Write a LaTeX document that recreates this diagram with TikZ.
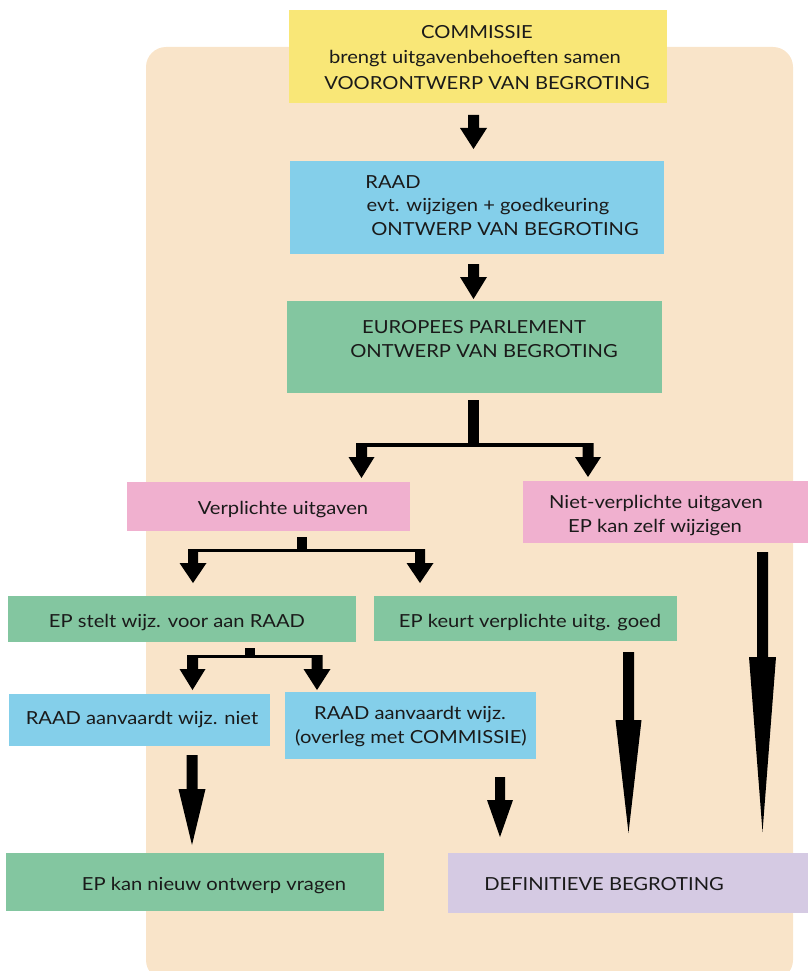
\documentclass[tikz,border=0pt]{standalone}
\usepackage{fontspec}
\setmainfont{Lato}[FakeStretch=1.12]
\definecolor{bgc}{HTML}{F9E4C9}
\definecolor{yel}{HTML}{F9E777}
\definecolor{blu}{HTML}{84CFEA}
\definecolor{grn}{HTML}{83C6A0}
\definecolor{pnk}{HTML}{F0B0CF}
\definecolor{lav}{HTML}{D5CAE3}
\definecolor{txt}{HTML}{1A1A1A}
\newcommand{\barrow}[6]{%
  \fill[black] (#1-#5,#2) -- (#1+#5,#2) -- (#1+#5,#3) -- (#1+#6,#3) -- (#1,#4) -- (#1-#6,#3) -- (#1-#5,#3) -- cycle;}
\begin{document}
\begin{tikzpicture}[x={(1pt,0)},y={(0,-1pt)},
  box/.style={draw=none,inner sep=0pt,anchor=north west},
  lbl/.style={anchor=base,inner sep=0pt,text=txt,font=\fontsize{18}{21}\selectfont}]
\useasboundingbox (0,0) rectangle (808,971);
\begin{scope}
\clip (0,0) rectangle (808,971);
\fill[bgc,rounded corners=20pt] (146,47) rectangle (793,980);
\end{scope}
% boxes
\fill[yel] (289,10) rectangle (667,103);
\node[box,minimum width=378pt,minimum height=93pt] (comm) at (289,10) {};
\fill[blu] (290,161) rectangle (664,254);
\node[box,minimum width=374pt,minimum height=93pt] (raad) at (290,161) {};
\fill[grn] (287,301) rectangle (662,393);
\node[box,minimum width=375pt,minimum height=92pt] (ep) at (287,301) {};
\fill[pnk] (127,482) rectangle (410,531);
\node[box,minimum width=283pt,minimum height=49pt] (verpl) at (127,482) {};
\fill[pnk] (523,481) rectangle (808,543);
\node[box,minimum width=285pt,minimum height=62pt] (niet) at (523,481) {};
\fill[grn] (8,596) rectangle (356,642);
\node[box,minimum width=348pt,minimum height=46pt] (stelt) at (8,596) {};
\fill[grn] (374,596) rectangle (677,641);
\node[box,minimum width=303pt,minimum height=45pt] (keurt) at (374,596) {};
\fill[blu] (9,694) rectangle (270,746);
\node[box,minimum width=261pt,minimum height=52pt] (rniet) at (9,694) {};
\fill[blu] (285,692) rectangle (536,759);
\node[box,minimum width=251pt,minimum height=67pt] (rwijz) at (285,692) {};
\fill[grn] (6,853) rectangle (384,911);
\node[box,minimum width=378pt,minimum height=58pt] (nieuw) at (6,853) {};
\fill[lav] (448,853) rectangle (808,913);
\node[box,minimum width=360pt,minimum height=60pt] (defi) at (448,853) {};
% texts
\node[lbl] (t1) at (477,39) {COMMISSIE};
\node[lbl] (t2) at (475,64) {brengt uitgavenbehoeften samen};
\node[lbl] (t3) at (487,90) {VOORONTWERP VAN BEGROTING};
\node[lbl] (t4) at (393,188) {RAAD};
\node[lbl] (t5) at (488,211) {evt. wijzigen + goedkeuring};
\node[lbl] (t6) at (505,235) {ONTWERP VAN BEGROTING};
\node[lbl] (t7) at (474,333) {EUROPEES PARLEMENT};
\node[lbl] (t8) at (484,357) {ONTWERP VAN BEGROTING};
\node[lbl] (t9) at (283,514) {Verplichte uitgaven};
\node[lbl] (t10) at (656,508) {Niet-verplichte uitgaven};
\node[lbl] (t11) at (655,532) {EP kan zelf wijzigen};
\node[lbl] (t12) at (177,627) {EP stelt wijz. voor aan RAAD};
\node[lbl] (t13) at (530,627) {EP keurt verplichte uitg. goed};
\node[lbl] (t14) at (142,724) {RAAD aanvaardt wijz. niet};
\node[lbl] (t15) at (410,719) {RAAD aanvaardt wijz.};
\node[lbl] (t16) at (411,743) {(overleg met COMMISSIE)};
\node[lbl] (t17) at (214,890) {EP kan nieuw ontwerp vragen};
\node[lbl] (t18) at (604,890) {DEFINITIEVE BEGROTING};
% arrows
\barrow{473.5}{115}{128}{149}{5.5}{13.5}
\barrow{473.5}{264}{277}{299}{5.5}{13.5}
% branch 1
\fill[black] (467.5,400) rectangle (478.5,445);
\fill[black] (356,443) rectangle (593,447);
\barrow{361.5}{443}{457}{478}{5.5}{13}
\barrow{588}{443}{457}{477}{5.5}{13}
% branch 2
\fill[black] (297,537) rectangle (307,551);
\fill[black] (188,549) rectangle (425,552);
\barrow{193}{549}{563}{583}{5}{13.5}
\barrow{420}{549}{563}{583}{5}{13.5}
% branch 3
\fill[black] (245,648) rectangle (255,657);
\fill[black] (187,655) rectangle (322,658);
\barrow{192.5}{655}{669}{690}{5.5}{13}
\barrow{317}{655}{669}{690}{5.5}{13.5}
% long arrows
\barrow{628.5}{652}{720}{833}{5.5}{13}
\barrow{762.5}{552}{657}{832}{5.5}{13.5}
% bottom arrows
\barrow{192}{755}{789}{845}{5.5}{13.5}
\barrow{500}{777}{800}{837}{5}{13}
\end{tikzpicture}
\end{document}
